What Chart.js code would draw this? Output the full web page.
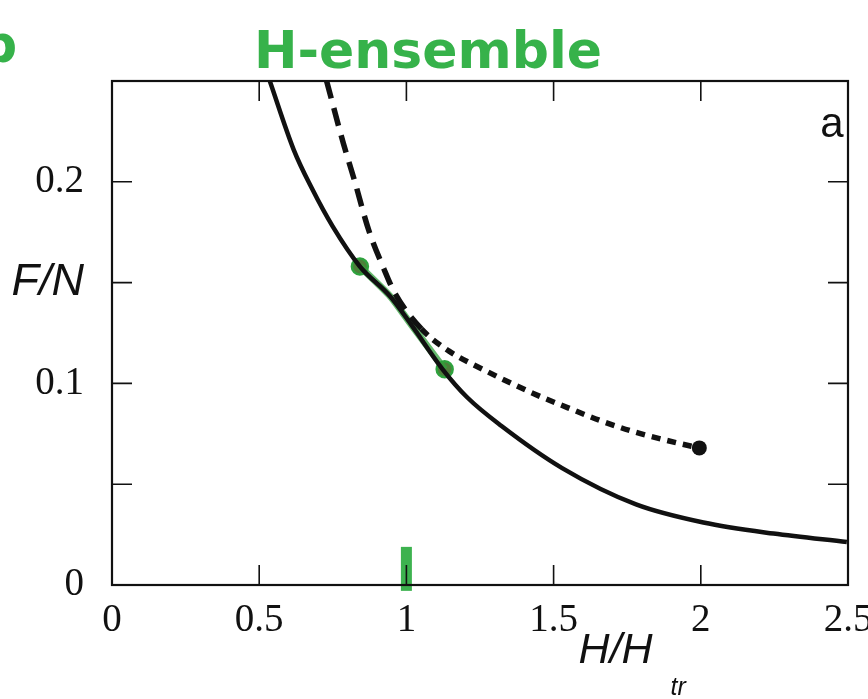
<!DOCTYPE html>
<html>
<head>
<meta charset="utf-8">
<script src="https://cdn.jsdelivr.net/npm/chart.js@4"></script>
<style>
  html, body { margin: 0; padding: 0; background: #fff; }
  #wrap { width: 868px; height: 699px; }
</style>
</head>
<body>
<div id="wrap"><canvas id="chart" width="868" height="699"></canvas></div>
<script>
// solid curve (F/N vs H/Htr)
const solidH = [0.536, 0.617, 0.678, 0.749, 0.842, 0.946, 1.017, 1.123, 1.207, 1.322, 1.529, 1.780, 2.009, 2.247, 2.496];
const solidF = [0.250, 0.216, 0.197, 0.178, 0.158, 0.143, 0.129, 0.107, 0.093, 0.079, 0.058, 0.040, 0.031, 0.0255, 0.0213];
// dashed curve, ends in a dot
const dashH = [0.729, 0.786, 0.823, 0.872, 0.923, 0.960, 1.051, 1.145, 1.259, 1.431, 1.547, 1.660, 1.773, 1.934, 1.995];
const dashF = [0.250, 0.219, 0.201, 0.176, 0.157, 0.145, 0.127, 0.116, 0.107, 0.095, 0.088, 0.0815, 0.076, 0.070, 0.068];
// green pen marks
const greenH = [0.842, 0.946, 1.017, 1.130];
const greenF = [0.158, 0.143, 0.129, 0.107];
const circleH = [0.842, 1.130];
const circleF = [0.158, 0.107];
const penTickH = [1.0];
const penTickF = [0.008];

const xTicks = ['0', '0.5', '1', '1.5', '2', '2.5'];
const yTickLabels = { '0': '0', '0.1': '0.1', '0.15': 'F/N', '0.2': '0.2' };

const pts = (xs, ys) => xs.map((x, i) => ({ x: x, y: ys[i] }));
const near = (a, b) => Math.abs(a - b) < 1e-6;

const framePlugin = {
  id: 'frame',
  afterDatasetsDraw(chart) {
    const { ctx, chartArea: a, scales: { x, y } } = chart;
    ctx.save();
    ctx.strokeStyle = '#111';
    ctx.lineWidth = 2.2;
    ctx.strokeRect(a.left, a.top, a.right - a.left, a.bottom - a.top);
    ctx.lineWidth = 1.6;
    ctx.beginPath();
    x.ticks.forEach(t => {
      if (near(t.value, 0) || near(t.value, 2.5)) return;
      const px = x.getPixelForValue(t.value);
      ctx.moveTo(px, a.bottom); ctx.lineTo(px, a.bottom - 20);
      ctx.moveTo(px, a.top); ctx.lineTo(px, a.top + 20);
    });
    y.ticks.forEach(t => {
      if (near(t.value, 0) || near(t.value, 0.25)) return;
      const py = y.getPixelForValue(t.value);
      ctx.moveTo(a.left, py); ctx.lineTo(a.left + 20, py);
      ctx.moveTo(a.right, py); ctx.lineTo(a.right - 20, py);
    });
    ctx.stroke();
    ctx.restore();
  },
  afterDraw(chart) {
    const { ctx, chartArea: a, scales: { x } } = chart;
    ctx.save();
    // handwritten title
    ctx.fillStyle = '#36b24a';
    ctx.font = 'bold 52px "DejaVu Sans"';
    ctx.textAlign = 'center';
    ctx.textBaseline = 'alphabetic';
    ctx.fillText('H-ensemble', 428, 68);
    ctx.textAlign = 'left';
    ctx.fillText('b', -20, 62);
    // panel letter
    ctx.fillStyle = '#111';
    ctx.font = '42px "Liberation Sans"';
    ctx.textAlign = 'center';
    ctx.fillText('a', a.right - 16, a.top + 56);
    // axis title H/H_tr
    ctx.textAlign = 'left';
    ctx.font = 'italic 43px "Liberation Sans"';
    const tx = x.getPixelForValue(1.585);
    ctx.fillText('H/H', tx, 663);
    ctx.font = 'italic 25px "Liberation Sans"';
    ctx.fillText('tr', tx + 92, 695);
    ctx.restore();
  }
};

new Chart(document.getElementById('chart'), {
  type: 'scatter',
  data: {
    datasets: [
      {
        label: 'solid',
        data: pts(solidH, solidF),
        showLine: true,
        borderColor: '#111',
        borderWidth: 4.5,
        pointRadius: 0,
        cubicInterpolationMode: 'monotone'
      },
      {
        label: 'dashed',
        data: pts(dashH, dashF),
        showLine: true,
        borderColor: '#111',
        backgroundColor: '#111',
        borderWidth: 5.5,
        cubicInterpolationMode: 'monotone',
        pointRadius: ctx => ctx.dataIndex === dashH.length - 1 ? 7.5 : 0,
        pointBorderWidth: 0,
        segment: {
          borderDash: ctx => ctx.p0.parsed.x < 1.05 ? [18, 10] : [9, 7]
        }
      },
      {
        label: 'green line',
        data: pts(greenH, greenF),
        showLine: true,
        borderColor: 'rgba(50,160,60,0.75)',
        borderWidth: 7,
        pointRadius: 0,
        tension: 0.2
      },
      {
        label: 'green circles',
        data: pts(circleH, circleF),
        pointRadius: 8,
        pointBackgroundColor: '#4d7f3a',
        pointBorderColor: '#2fa23e',
        pointBorderWidth: 2.5
      },
      {
        label: 'pen tick',
        data: pts(penTickH, penTickF),
        pointStyle: 'line',
        rotation: 90,
        pointRadius: 22,
        pointBorderWidth: 11,
        pointBorderColor: 'rgba(40,170,60,0.9)',
        clip: false
      }
    ]
  },
  options: {
    responsive: false,
    animation: false,
    devicePixelRatio: 1,
    layout: { autoPadding: false, padding: { top: 81, right: 20, left: 0, bottom: 0 } },
    plugins: { legend: { display: false }, tooltip: { enabled: false } },
    scales: {
      x: {
        type: 'linear',
        min: 0, max: 2.5,
        grid: { display: false, drawTicks: false },
        border: { display: false },
        ticks: {
          stepSize: 0.5,
          padding: 12,
          color: '#111',
          font: { family: '"Liberation Serif"', size: 39 },
          callback: (v, i) => xTicks[i] !== undefined ? xTicks[i] : ''
        },
        afterFit(s) { s.height = 114; s.paddingLeft = 0; s.paddingRight = 0; }
      },
      y: {
        type: 'linear',
        min: 0, max: 0.25,
        grid: { display: false, drawTicks: false },
        border: { display: false },
        ticks: {
          stepSize: 0.05,
          padding: 28,
          color: '#111',
          font: c => (c.tick && near(c.tick.value, 0.15))
            ? { family: '"Liberation Sans"', style: 'italic', size: 45 }
            : { family: '"Liberation Serif"', size: 39 },
          callback: v => {
            const k = Object.keys(yTickLabels).find(key => near(parseFloat(key), v));
            return k ? yTickLabels[k] : '';
          }
        },
        afterFit(s) { s.width = 112; s.paddingTop = 0; s.paddingBottom = 0; }
      }
    }
  },
  plugins: [framePlugin]
});
</script>
</body>
</html>
